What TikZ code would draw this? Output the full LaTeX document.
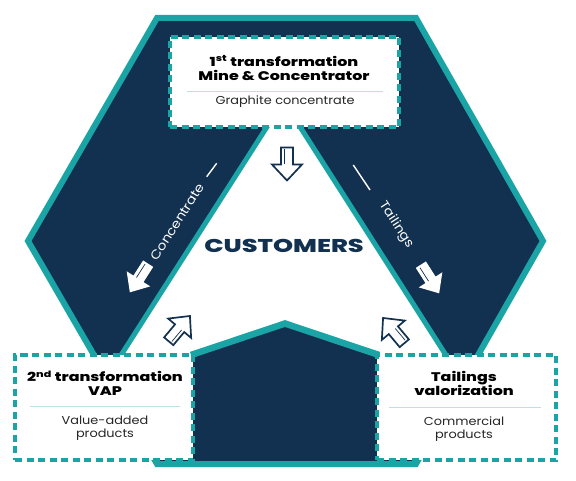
\documentclass[tikz,border=0pt]{standalone}
\usepackage{fontspec}
\setmainfont{Poppins}[BoldFont={Poppins ExtraBold}]
\usepackage{graphicx}
\definecolor{navy}{HTML}{12304F}
\definecolor{hexteal}{HTML}{1BA4A6}
\definecolor{seprule}{HTML}{BFE0E3}
\newcommand\wideT[1]{\scalebox{1.27}[1]{#1}}
\newcommand\wideS[1]{\scalebox{1.12}[1]{#1}}
\tikzset{
  box/.style={draw=hexteal, line width=3.5pt, dash pattern=on 7pt off 4.5pt, fill=white, inner sep=0pt},
  title/.style={font=\bfseries\fontsize{12.5}{14}\selectfont, align=center, text=black, inner sep=0pt},
  sub/.style={font=\fontsize{11.5}{13}\selectfont, align=center, text=black!85, inner sep=0pt},
  armtext/.style={font=\fontsize{12.5}{14}\selectfont, text=white, inner sep=0pt},
  hollowarr/.pic={
    \draw[navy, line width=1.7pt, fill=white, line join=miter]
      (-16,-6) -- (1,-6) -- (1,-15) -- (17,0) -- (1,15) -- (1,6) -- (-16,6) -- cycle;
    \draw[navy, line width=0.7pt] (-14,2.6) -- (1,2.6);
  },
  whitearr/.pic={
    \fill[white]
      (-17,-6) -- (1,-6) -- (1,-14) -- (17,0) -- (1,14) -- (1,6) -- (-17,6) -- cycle;
    \draw[navy, line width=0.7pt] (-15,2.4) -- (1,2.4);
  }
}
\begin{document}
\begin{tikzpicture}[x=1pt,y=-1pt]
\useasboundingbox (0,0) rectangle (576,481);
% hexagon
\draw[fill=navy, draw=hexteal, line width=6pt, line join=miter]
  (157,18) -- (416,18) -- (543,241) -- (416,464) -- (157,464) -- (28,241) -- cycle;
% white inner region
\fill[white] (283.5,101) -- (119.2,358) -- (193,358) -- (193,353) -- (285,323) -- (377,353) -- (377,358) -- (447.8,358) -- cycle;
\draw[hexteal, line width=5pt] (283.5,101) -- (119.2,358);
\draw[hexteal, line width=5pt] (283.5,101) -- (447.8,358);
\draw[hexteal, line width=6.5pt, line join=miter] (191,355) -- (285,323.5) -- (379,355);
% boxes
\node[box, minimum width=229pt, minimum height=90pt] (topbox) at (284.5,82) {};
\node[box, minimum width=178pt, minimum height=105pt] (leftbox) at (104,407.5) {};
\node[box, minimum width=179pt, minimum height=105pt] (rightbox) at (466.5,407.5) {};
% top box text
\node[title] (toptitle) at (284,68) {\wideT{1\textsuperscript{st} transformation}\\\wideT{Mine \& Concentrator}};
\draw[seprule, line width=0.8pt] (187,91) -- (383,91);
\node[sub] (topsub) at (285,102) {\wideS{Graphite concentrate}};
% left box text
\node[title] (lefttitle) at (105,383.5) {\wideT{2\textsuperscript{nd} transformation}\\\wideT{VAP}};
\draw[seprule, line width=0.8pt] (30,406) -- (180,406);
\node[sub] (leftsub) at (105,428) {\wideS{Value-added}\\\wideS{products}};
% right box text
\node[title] (righttitle) at (464,383.5) {\wideT{Tailings}\\\wideT{valorization}};
\draw[seprule, line width=0.8pt] (389,407) -- (541,407);
\node[sub] (rightsub) at (464,429) {\wideS{Commercial}\\\wideS{products}};
% customers
\node[font=\bfseries\fontsize{18.5}{20}\selectfont, text=navy, inner sep=0pt] (cust) at (284,246) {\scalebox{1.38}[1]{CUSTOMERS}};
% arm labels
\node[armtext, rotate=57.4] (conc) at (177,222) {\wideS{Concentrate}};
\draw[white, line width=1.4pt] (206.7,176.7) -- (216.7,163.3);
\node[armtext, rotate=-57.4] (tail) at (396,225) {\wideS{Tailings}};
\draw[white, line width=1.4pt] (353.3,165) -- (370,190);
% arrows
\pic[rotate=-90] at (287,163.5) {hollowarr};
\pic[rotate=50] at (179,329) {hollowarr};
\pic[rotate=130] at (394,331) {hollowarr};
\pic[rotate=-122.6] at (139,278) {whitearr};
\pic[rotate=-57.4] at (430,279) {whitearr};
\end{tikzpicture}
\end{document}
